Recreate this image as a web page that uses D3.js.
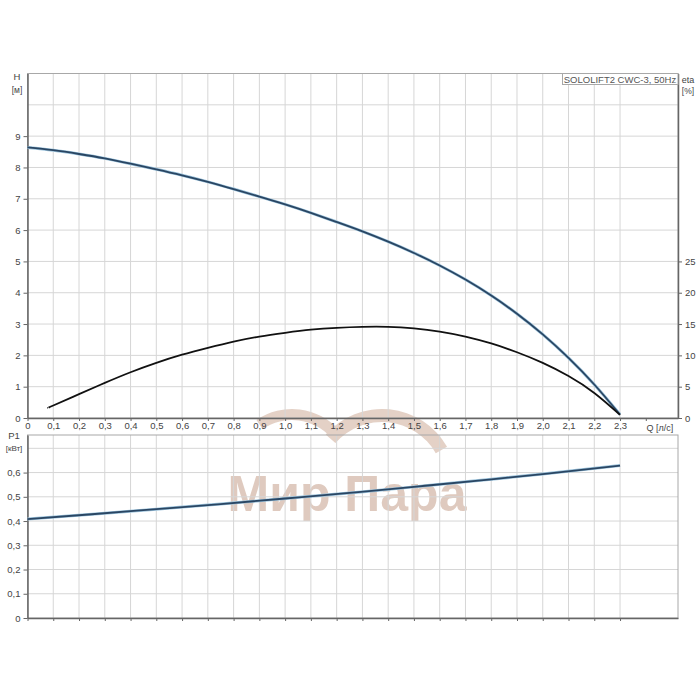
<!DOCTYPE html>
<html>
<head>
<meta charset="utf-8">
<script src="https://cdn.jsdelivr.net/npm/d3@7"></script>
<style>
  body { margin: 0; background: #fff; }
  svg text { font-family: "Liberation Sans", Arial, sans-serif; fill: #444; }
  .grid line { stroke: #d6d6d6; stroke-width: 1; }
</style>
</head>
<body>
<div id="chart"></div>
<script>
// flow, l/s
const qHead = [0, 0.1, 0.2, 0.3, 0.4, 0.5, 0.6, 0.7, 0.8, 0.9, 1.0, 1.1, 1.2, 1.3, 1.4, 1.5, 1.6, 1.7, 1.8, 1.9, 2.0, 2.1, 2.2, 2.3];
const headValues = [8.64, 8.55, 8.43, 8.29, 8.12, 7.94, 7.75, 7.54, 7.31, 7.07, 6.82, 6.55, 6.26, 5.96, 5.63, 5.27, 4.87, 4.42, 3.91, 3.33, 2.67, 1.92, 1.07, 0.11];
const qEta = [0.08, 0.1, 0.2, 0.3, 0.4, 0.5, 0.6, 0.7, 0.8, 0.9, 1.0, 1.1, 1.2, 1.3, 1.4, 1.5, 1.6, 1.7, 1.8, 1.9, 2.0, 2.1, 2.2, 2.3];
const etaValues = [1.6, 2.0, 3.8, 5.6, 7.3, 8.8, 10.1, 11.2, 12.2, 13.0, 13.6, 14.1, 14.4, 14.55, 14.55, 14.3, 13.8, 13.0, 11.9, 10.5, 8.8, 6.7, 4.0, 0.5];
const qPower = [0, 0.25, 0.5, 0.75, 1.0, 1.25, 1.5, 1.75, 2.0, 2.3];
const powerValues = [0.408, 0.428, 0.449, 0.470, 0.493, 0.516, 0.541, 0.567, 0.594, 0.629];

const qTicks = d3.range(0, 24).map(i => i / 10);
const headTicks = [0, 1, 2, 3, 4, 5, 6, 7, 8, 9];
const etaTicks = [0, 5, 10, 15, 20, 25];
const powerTicks = [0, 0.1, 0.2, 0.3, 0.4, 0.5, 0.6];

const fmt1 = d => d === 0 ? "0" : d.toFixed(1).replace(".", ",");
const fmt0 = d => String(d);

const left = 27.5, right = 678;
const top1 = 73.5, bottom1 = 418;
const top2 = 435, bottom2 = 618;

const svg = d3.select("#chart").append("svg")
    .attr("width", 700)
    .attr("height", 700);

const x = d3.scaleLinear().domain([0, 2.525]).range([left, right]);
const yH = d3.scaleLinear().domain([0, 11]).range([bottom1, top1]);
const yEta = d3.scaleLinear().domain([0, 55]).range([bottom1, top1]);
const yP = d3.scaleLinear().domain([0, 0.755]).range([bottom2, top2]);

// watermark behind everything
const wm = svg.append("g").attr("opacity", 0.45);
wm.append("path")
    .attr("transform", "translate(292,472)")
    .attr("d", d3.arc()({innerRadius: 52, outerRadius: 63, startAngle: -0.6, endAngle: 0.85, cornerRadius: 4}))
    .attr("fill", "#c49a82");
wm.append("path")
    .attr("transform", "translate(382,484)")
    .attr("d", d3.arc()({innerRadius: 62, outerRadius: 75, startAngle: -0.85, endAngle: 1.05, cornerRadius: 5}))
    .attr("fill", "#c49a82");
wm.append("text")
    .attr("x", 347).attr("y", 511)
    .attr("text-anchor", "middle")
    .style("font-size", "50px")
    .style("font-weight", "bold")
    .style("fill", "#b98c72")
    .text("Мир Пара");

function grid(g, yScale, yVals, y0, y1) {
    const gg = g.append("g").attr("class", "grid");
    gg.selectAll(".v").data(qTicks.slice(1)).enter().append("line")
        .attr("x1", d => x(d)).attr("x2", d => x(d))
        .attr("y1", y0).attr("y2", y1);
    gg.selectAll(".h").data(yVals).enter().append("line")
        .attr("x1", left).attr("x2", right)
        .attr("y1", d => yScale(d)).attr("y2", d => yScale(d));
}

grid(svg, yH, d3.range(1, 11), top1, bottom1);
grid(svg, yP, [0.1, 0.2, 0.3, 0.4, 0.5, 0.6, 0.7], top2, bottom2);

// frames
[[top1, bottom1], [top2, bottom2]].forEach(([t, b]) => {
    svg.append("rect")
        .attr("x", left).attr("y", t)
        .attr("width", right - left).attr("height", b - t)
        .attr("fill", "none").attr("stroke", "#a8a8a8");
});

function styleAxis(g) {
    g.select(".domain").attr("stroke", "#666").attr("stroke-width", 1.5);
    g.selectAll(".tick line").attr("stroke", "#666");
    g.selectAll(".tick text").style("font-size", "9.5px").style("fill", "#444");
}

svg.append("g")
    .attr("transform", "translate(" + left + ",0)")
    .call(d3.axisLeft(yH).tickValues(headTicks).tickSize(4).tickSizeOuter(0).tickFormat(fmt0))
    .call(styleAxis);

svg.append("g")
    .attr("transform", "translate(" + right + ",0)")
    .call(d3.axisRight(yEta).tickValues(etaTicks).tickSize(4).tickSizeOuter(0).tickFormat(fmt0))
    .call(styleAxis);

svg.append("g")
    .attr("transform", "translate(0," + bottom1 + ")")
    .call(d3.axisBottom(x).tickValues(qTicks.concat([2.4])).tickSize(3).tickSizeOuter(0)
        .tickFormat(d => d > 2.35 ? "" : fmt1(d)))
    .call(styleAxis)
    .call(g => g.selectAll(".tick text").attr("dy", "0.55em"));

svg.append("g")
    .attr("transform", "translate(" + left + ",0)")
    .call(d3.axisLeft(yP).tickValues(powerTicks).tickSize(4).tickSizeOuter(0).tickFormat(fmt1))
    .call(styleAxis);

svg.append("g")
    .attr("transform", "translate(0," + bottom2 + ")")
    .call(d3.axisBottom(x).tickValues(qTicks).tickSize(3).tickSizeOuter(0).tickFormat(""))
    .call(styleAxis);

// axis titles
const lbl = (t, xx, yy, size) => svg.append("text")
    .attr("x", xx).attr("y", yy).attr("text-anchor", "middle")
    .style("font-size", size + "px").text(t);
lbl("H", 17, 80, 9.5);
lbl("[м]", 17, 93, 8.5);
lbl("eta", 688, 83, 9);
lbl("[%]", 688, 94, 8.5);
lbl("P1", 14, 439, 9.5);
lbl("[кВт]", 14, 451, 8);
lbl("Q [л/с]", 660, 431, 9);

// legend box
svg.append("rect")
    .attr("x", 562.5).attr("y", top1)
    .attr("width", right - 562.5).attr("height", 11)
    .attr("fill", "#fff").attr("stroke", "#a8a8a8");
svg.append("text")
    .attr("x", 620).attr("y", 82.5)
    .attr("text-anchor", "middle")
    .style("font-size", "9.5px").style("fill", "#555")
    .text("SOLOLIFT2 CWC-3, 50Hz");

// curves
function curve(xs, ys, yScale, color, halo) {
    const pts = xs.map((q, i) => [q, ys[i]]);
    const line = d3.line().curve(d3.curveNatural)
        .x(d => x(d[0])).y(d => yScale(d[1]));
    if (halo) {
        svg.append("path").attr("d", line(pts))
            .attr("fill", "none").attr("stroke", halo).attr("stroke-width", 3);
    }
    svg.append("path").attr("d", line(pts))
        .attr("fill", "none").attr("stroke", color).attr("stroke-width", 1.8);
}

curve(qHead, headValues, yH, "#2a4663", "#9cc3dc");
curve(qEta, etaValues, yEta, "#111", null);
curve(qPower, powerValues, yP, "#2a4663", "#9cc3dc");
</script>
</body>
</html>
